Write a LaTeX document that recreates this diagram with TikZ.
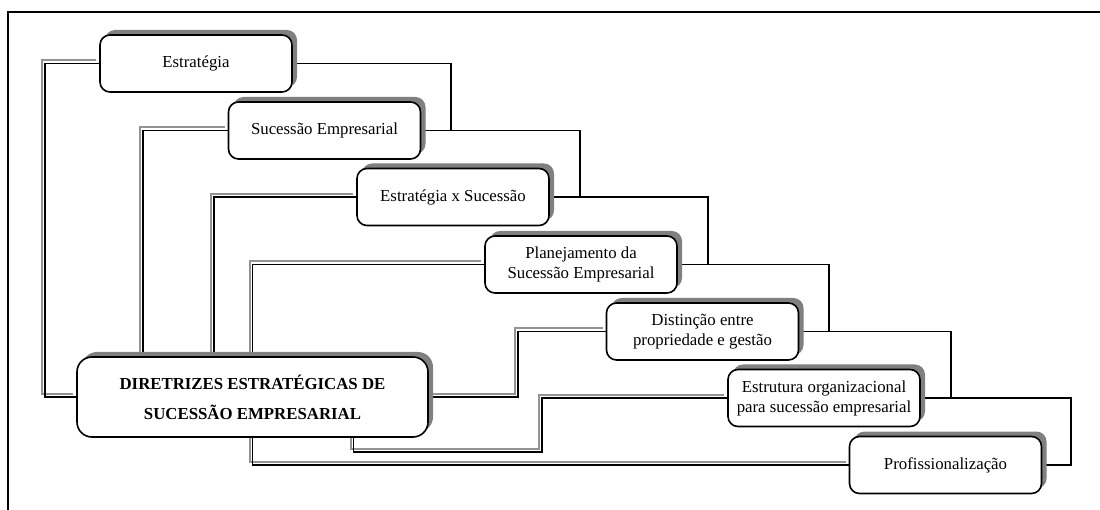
\documentclass[tikz,border=0pt]{standalone}
\usepackage{fontspec}
\setmainfont{Liberation Serif}
\usepackage{tikz}
\usetikzlibrary{calc, positioning, shadows, backgrounds}
\tikzstyle{blk}=[draw, line width=1.6pt, rounded corners=10pt, fill=white, minimum width=192pt, minimum height=57pt, inner sep=2pt, align=center, font=\fontsize{16.8}{20}\selectfont, general shadow={fill=gray, shadow xshift=5pt, shadow yshift=5pt}]
\tikzstyle{lnk}=[line width=1.7pt]
\tikzstyle{dbl}=[line width=1.7pt, preaction={draw=gray!85, line width=2pt, transform canvas={shift={(-3pt,3pt)}}}]

\begin{document}
\begin{tikzpicture}[x=1pt, y=-1pt]
\useasboundingbox (0,0) rectangle (1100,510);
\draw[line width=1.3pt] (8,510) -- (8,12) -- (1100,12);

\node[blk] (s1) at (196,63.5) {Estratégia};
\node[blk] (s2) at (324.5,130.5) {Sucessão Empresarial};
\node[blk] (s3) at (453,197) {Estratégia x Sucessão};
\node[blk] (s4) at (581,264.5) {Planejamento da\\Sucessão Empresarial};
\node[blk] (s5) at (702.5,331.5) {Distinção entre\\propriedade e gestão};
\node[blk] (s6) at (824,398) {Estrutura organizacional\\para sucessão empresarial};
\node[blk] (s7) at (945.5,465) {Profissionalização};
\node[blk, minimum width=351pt, minimum height=80pt, rounded corners=15pt, font=\bfseries\fontsize{16.8}{30}\selectfont] (main) at (252.5,397) {DIRETRIZES ESTRATÉGICAS DE\\SUCESSÃO EMPRESARIAL};

\begin{pgfonlayer}{background}
\draw[lnk] (s1.east) -| ([xshift=30pt]s2.east) -- (s2.east);
\draw[lnk] (s2.east) -| ([xshift=30pt]s3.east) -- (s3.east);
\draw[lnk] (s3.east) -| ([xshift=30pt]s4.east) -- (s4.east);
\draw[lnk] (s4.east) -| ([xshift=30pt]s5.east) -- (s5.east);
\draw[lnk] (s5.east) -| ([xshift=30pt]s6.east) -- (s6.east);
\draw[lnk] (s6.east) -| ([xshift=29pt]s7.east) -- (s7.east);

\draw[dbl] (s1.west) -| ([xshift=-31pt]main.west) -- (main.west);
\draw[dbl] (s2.west) -| ([xshift=67pt]main.north west);
\draw[dbl] (s3.west) -| ([xshift=138pt]main.north west);
\draw[dbl] (s4.west) -| (main.north);
\draw[dbl] (s5.west) -| ([xshift=89pt]main.east) -- (main.east);
\draw[dbl] (s6.west) -- ++(-185pt,0) |- ([xshift=101pt,yshift=-14pt]main.south) -- ([xshift=101pt]main.south);
\draw[dbl] (s7.west) -| (main.south);
\end{pgfonlayer}
\end{tikzpicture}
\end{document}
